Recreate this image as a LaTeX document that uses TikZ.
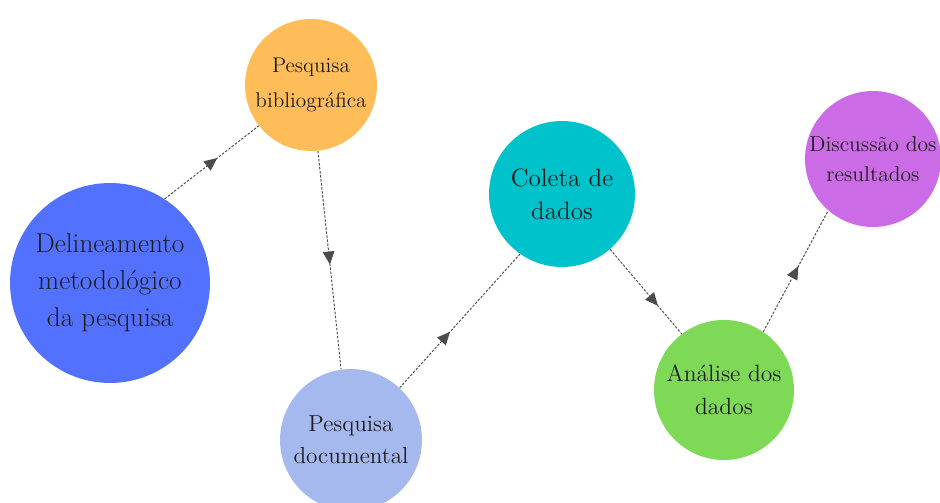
\documentclass[tikz,border=0pt]{standalone}
\usepackage{tikz}
\usetikzlibrary{arrows.meta,decorations.markings}
\definecolor{metblue}{HTML}{5271FF}
\definecolor{biborange}{HTML}{FFBD59}
\definecolor{docblue}{HTML}{A6B9EE}
\definecolor{coltea}{HTML}{00C2CB}
\definecolor{anagreen}{HTML}{7ED957}
\definecolor{dispurple}{HTML}{CB6CE6}
\definecolor{txtgray}{HTML}{1C1C1C}
\tikzset{
    stage/.style={circle,inner sep=0pt,align=center,text=txtgray},
    midarrow/.style={postaction={decorate},decoration={markings,
        mark=at position #1 with {\arrow{Triangle[length=2.6mm,width=2.3mm]}}}},
    link/.style={draw=black!70,line width=0.55pt,dash pattern=on 1.4pt off 0.9pt,midarrow=#1},
}

\begin{document}
\begin{tikzpicture}[x=0.02cm,y=-0.02cm]
    \useasboundingbox (0,0) rectangle (940,503);
    \node[stage,fill=metblue,minimum size=4cm,font=\fontsize{15.5}{21}\selectfont] (met) at (110,283)
        {Delineamento\\metodológico\\da pesquisa};
    \node[stage,fill=biborange,minimum size=2.64cm,font=\fontsize{12.1}{16.5}\selectfont] (bib) at (311,85)
        {Pesquisa\\[3pt]bibliográfica};
    \node[stage,fill=docblue,minimum size=2.84cm,font=\fontsize{13.2}{18}\selectfont] (doc) at (351,440)
        {Pesquisa\\documental};
    \node[stage,fill=coltea,minimum size=2.92cm,font=\fontsize{14.3}{19}\selectfont] (col) at (562,194)
        {Coleta de\\dados};
    \node[stage,fill=anagreen,minimum size=2.8cm,font=\fontsize{13.4}{19}\selectfont] (ana) at (724,390)
        {Análise dos\\dados};
    \node[stage,fill=dispurple,minimum size=2.72cm,font=\fontsize{12.3}{17}\selectfont] (dis) at (873,159)
        {Discussão dos\\resultados};

    \path
    (met.57) edge[link=0.56] (bib.218)
    (bib.276) edge[link=0.52] (doc.98)
    (doc.47) edge[link=0.42] (col.235)
    (col.311) edge[link=0.67] (ana.127)
    (ana.56) edge[link=0.54] (dis.229);
\end{tikzpicture}
\end{document}
